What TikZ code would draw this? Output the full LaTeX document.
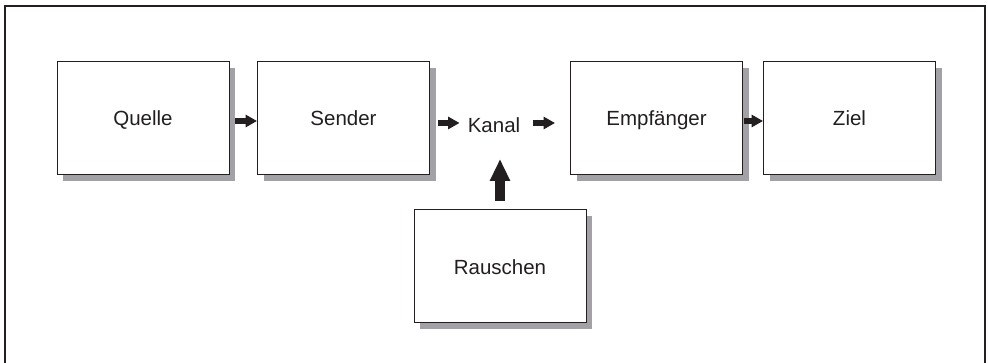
\documentclass[tikz,border=0pt]{standalone}
\usepackage{fontspec}
\setmainfont{Liberation Sans}
\usetikzlibrary{arrows.meta,shadows}
\definecolor{shade}{HTML}{A2A2A6}
\definecolor{ink}{HTML}{231F20}
\begin{document}
\begin{tikzpicture}[x=1pt,y=1pt,
  block/.style={draw=ink,line width=0.9pt,fill=white,minimum width=172pt,minimum height=113pt,
    inner sep=0pt,text height=16.4pt,text depth=0pt,font=\fontsize{20.5}{24}\selectfont,text=ink,
    drop shadow={shadow xshift=6pt,shadow yshift=-7pt,fill=shade,opacity=1,draw=none}},
  flow/.style={draw=ink,line width=6pt,-{Triangle[length=11.5pt,width=12pt]}},
  bigflow/.style={draw=ink,line width=10.5pt,-{Triangle[length=22pt,width=19pt]}}]
\useasboundingbox (0,0) rectangle (988,363);
% outer frame, open at the bottom
\draw[ink,line width=2pt] (5,0) -- (5,357) -- (985,357) -- (985,0);
% blocks
\node[block] (q) at (143,245.5) {Quelle};
\node[block] (s) at (343.5,245.5) {Sender};
\node[block] (e) at (656.5,245.5) {Empfänger};
\node[block] (z) at (849.5,245.5) {Ziel};
\node[block] (r) at (500,97) {Rauschen};
\node[inner sep=0pt,font=\fontsize{20.5}{24}\selectfont,text=ink,anchor=base] (k) at (494,230) {Kanal};
% connectors
\draw[flow,shorten <=6pt] ([yshift=-3.5pt]q.east) -- ([yshift=-3.5pt]s.west);
\draw[flow,shorten <=8pt,shorten >=8pt] ([yshift=-5.5pt]s.east) -- ([yshift=-5.5pt]s.east -| k.west);
\draw[flow,shorten <=13pt,shorten >=15pt] ([yshift=-5.5pt]s.east -| k.east) -- ([yshift=-5.5pt]e.west);
\draw[flow,shorten <=1pt] ([yshift=-3.5pt]e.east) -- ([yshift=-3.5pt]z.west);
\draw[bigflow,shorten <=8pt,shorten >=26pt] (r.north) -- (r.north |- k.base);
\end{tikzpicture}
\end{document}
